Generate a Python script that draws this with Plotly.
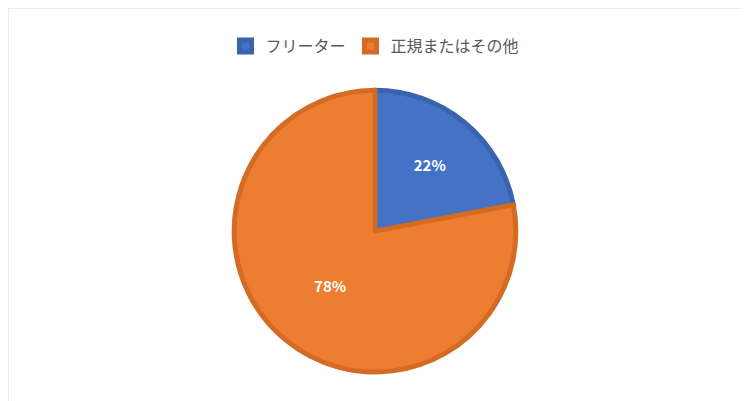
import plotly.graph_objects as go

labels = ["フリーター", "正規またはその他"]
values = [22, 78]
colors = ["#4472C4", "#ED7D31"]
edge_colors = ["#3A63AE", "#D46B24"]

fig = go.Figure(go.Pie(
    labels=labels, values=values, sort=False, direction="clockwise", rotation=0,
    marker=dict(colors=colors, line=dict(color=edge_colors, width=5)),
    texttemplate="<b>%{percent:.0%}</b>", textposition="inside", insidetextorientation="horizontal",
    textfont=dict(color="white", size=15, family="Noto Sans CJK JP"),
    domain=dict(x=[0.302, 0.678], y=[0.09, 0.797]),
    hoverinfo="label+percent",
))

fig.update_layout(
    width=749, height=401, margin=dict(l=0, r=0, t=0, b=0),
    paper_bgcolor="white",
    font=dict(family="Noto Sans CJK JP", color="#595959"),
    legend=dict(orientation="h", x=0.49, xanchor="center", y=0.905, yanchor="middle",
                font=dict(size=16, color="#595959"), itemwidth=30),
    shapes=[dict(type="rect", xref="paper", yref="paper", x0=0, y0=0, x1=1, y1=1,
                 line=dict(color="#D9D9D9", width=1))],
)

fig.write_html("out.html")
